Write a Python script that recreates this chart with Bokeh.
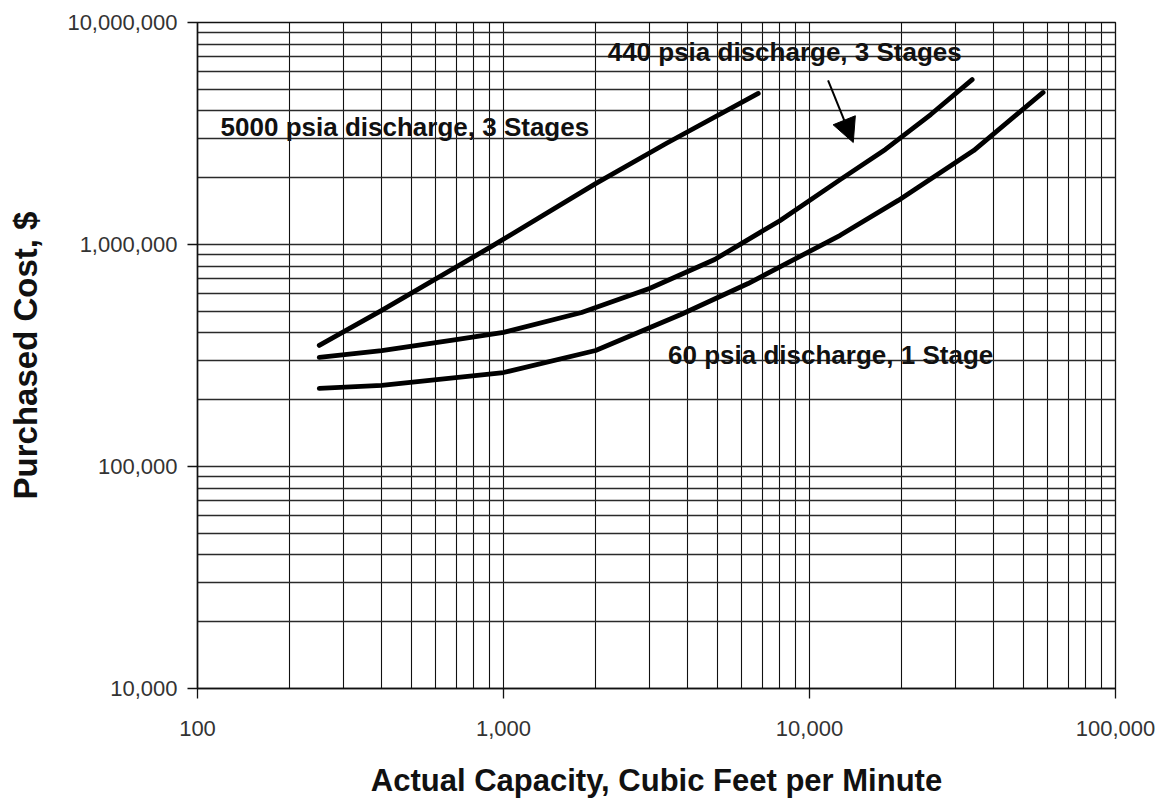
from bokeh.plotting import figure
from bokeh.models import Range1d, FixedTicker, NumeralTickFormatter, Label, Arrow, NormalHead
from bokeh.embed import file_html
from bokeh.resources import INLINE

# ---- data ----
cap_5000 = [250, 400, 900, 2000, 3400, 6800]
cost_5000 = [351000, 505000, 968000, 1880000, 2850000, 4790000]

cap_440 = [250, 400, 700, 1000, 1800, 3000, 4900, 8000, 12600, 17700, 24900, 34000]
cost_440 = [310000, 333000, 373000, 402000, 494000, 634000, 856000, 1280000, 1960000, 2680000, 3850000, 5530000]

cap_60 = [250, 400, 1000, 2000, 3800, 6300, 12600, 19500, 34400, 58000]
cost_60 = [225000, 232000, 265000, 333000, 484000, 667000, 1100000, 1580000, 2650000, 4840000]

x_major = [100, 1000, 10000, 100000]
y_major = [10000, 100000, 1000000, 10000000]
x_minor = [m * d for d in (100, 1000, 10000) for m in range(2, 10)]
y_minor = [m * d for d in (10000, 100000, 1000000) for m in range(2, 10)]

label_5000 = "5000 psia discharge, 3 Stages"
label_440 = "440 psia discharge, 3 Stages"
label_60 = "60 psia discharge, 1 Stage"

FONT = "Liberation Sans"

p = figure(width=1171, height=805, x_axis_type="log", y_axis_type="log",
           x_range=Range1d(100, 100000), y_range=Range1d(10000, 10000000),
           output_backend="svg", toolbar_location=None,
           min_border_left=197, min_border_right=56, min_border_top=22, min_border_bottom=117,
           background_fill_color="white", border_fill_color="white")

xt = FixedTicker(ticks=x_major, minor_ticks=x_minor)
yt = FixedTicker(ticks=y_major, minor_ticks=y_minor)
p.xaxis.ticker = xt
p.yaxis.ticker = yt
p.xgrid.ticker = xt
p.ygrid.ticker = yt

p.xgrid.grid_line_color = "#111111"
p.xgrid.grid_line_width = 1.1
p.xgrid.minor_grid_line_color = "#111111"
p.xgrid.minor_grid_line_width = 1.1
p.ygrid.grid_line_color = "#2a2a2a"
p.ygrid.grid_line_width = 1.6
p.ygrid.minor_grid_line_color = "#2a2a2a"
p.ygrid.minor_grid_line_width = 1.6

p.outline_line_color = "#111111"
p.outline_line_width = 1.3

for ax in (p.xaxis, p.yaxis):
    ax.formatter = NumeralTickFormatter(format="0,0")
    ax.axis_line_color = "#111111"
    ax.axis_line_width = 1.5
    ax.major_tick_line_color = "#111111"
    ax.major_tick_line_width = 1.3
    ax.major_tick_out = 10
    ax.major_tick_in = 0
    ax.minor_tick_line_color = None
    ax.major_label_text_font = FONT
    ax.major_label_text_font_size = "22px"
    ax.major_label_text_color = "#333333"
    ax.axis_label_text_font = FONT
    ax.axis_label_text_font_style = "bold"
    ax.axis_label_text_color = "#111111"

p.xaxis.major_label_standoff = 22
p.yaxis.major_label_standoff = 10
p.xaxis.axis_label = "Actual Capacity, Cubic Feet per Minute"
p.yaxis.axis_label = "Purchased Cost, $"
p.xaxis.axis_label_text_font_size = "31px"
p.yaxis.axis_label_text_font_size = "33px"
p.xaxis.axis_label_standoff = 24
p.yaxis.axis_label_standoff = 20

for xs, ys in ((cap_5000, cost_5000), (cap_440, cost_440), (cap_60, cost_60)):
    p.line(xs, ys, line_color="black", line_width=4.8, line_cap="round", line_join="round")

# labels
for txt, lx, ly in ((label_5000, 119, 3400000), (label_440, 2190, 7350000), (label_60, 3450, 318000)):
    p.add_layout(Label(x=lx, y=ly, text=txt, text_font=FONT, text_font_style="bold",
                       text_font_size="26px", text_color="#111111", text_baseline="alphabetic"))

p.add_layout(Arrow(x_start=11500, y_start=5480000, x_end=13900, y_end=2880000,
                   line_color="black", line_width=2,
                   end=NormalHead(size=24, fill_color="black", line_color="black")))

open("out.html", "w").write(file_html(p, INLINE))
